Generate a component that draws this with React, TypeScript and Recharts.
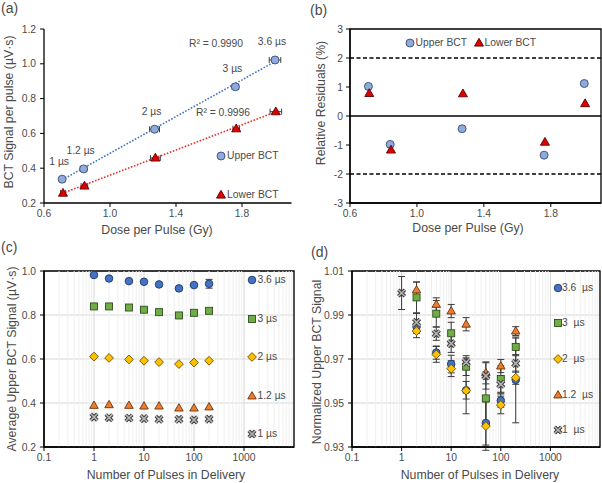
import React from 'react'
import {
  ScatterChart,
  Scatter,
  XAxis,
  YAxis,
  CartesianGrid,
  ErrorBar,
  ReferenceLine,
  ReferenceArea,
} from 'recharts'

const FONT = '"Liberation Sans", Arial, Helvetica, sans-serif'
const INK = '#4a4a4a'

// (a) + (b): signal per pulse against dose per pulse
const pulseWidths = ['1 µs', '1.2 µs', '2 µs', '3 µs', '3.6 µs']
const doseUpper = [0.71, 0.84, 1.27, 1.76, 2.0]
const doseLower = [0.715, 0.845, 1.275, 1.765, 2.005]
const upperSignal = [0.337, 0.396, 0.624, 0.868, 1.022]
const lowerSignal = [0.257, 0.298, 0.459, 0.627, 0.725]
const doseErr = [0.015, 0.02, 0.03, 0.02, 0.035]
const fitDose = [0.71, 2.0]
const upperFit = [0.333, 1.013]
const lowerFit = [0.255, 0.722]
const upperResidual = [1.02, -0.98, -0.44, -1.35, 1.12]
const lowerResidual = [0.78, -1.17, 0.77, -0.9, 0.43]

// (c): average upper BCT signal against number of pulses
const pulseCounts = [1, 2, 5, 10, 20, 50, 100, 200]
const avg36 = [0.982, 0.966, 0.954, 0.951, 0.939, 0.921, 0.936, 0.942]
const avg3 = [0.839, 0.839, 0.834, 0.824, 0.813, 0.798, 0.81, 0.819]
const avg2 = [0.611, 0.605, 0.598, 0.592, 0.586, 0.577, 0.584, 0.592]
const avg12 = [0.389, 0.392, 0.389, 0.386, 0.386, 0.377, 0.377, 0.382]
const avg1 = [0.336, 0.333, 0.332, 0.329, 0.326, 0.326, 0.323, 0.327]
const avgErr36 = [null, null, null, null, null, 0.004, 0.005, 0.02]
const avgErr3 = [null, null, null, null, null, 0.013, null, null]

// (d): normalised upper BCT signal
const normPulses = [2, 5, 10, 20, 50, 100, 200]
const norm36 = [0.9847, 0.9729, 0.9677, 0.9558, 0.9409, 0.9511, 0.9605]
const norm3 = [0.998, 0.9906, 0.9817, 0.9665, 0.9521, 0.9609, 0.9755]
const norm2 = [0.9827, 0.9721, 0.9656, 0.9556, 0.9395, 0.9491, 0.9615]
const norm12 = [1.0014, 0.9948, 0.9918, 0.9858, 0.9637, 0.9668, 0.9827]
const norm1 = [1.0, 0.9867, 0.9815, 0.977, 0.9685, 0.9623, 0.9585, 0.968]
const normErr36 = [0.003, 0.003, 0.004, 0.004, 0.01, 0.003, 0.0195]
const normErr3 = [0.007, 0.006, 0.005, 0.004, 0.012, 0.006, 0.004]
const normErr2 = [0.003, 0.0036, 0.0036, 0.0105, 0.011, 0.004, 0.003]
const normErr12 = [0.0036, 0.003, 0.003, 0.003, 0.005, 0.003, 0.002]
const normErr1 = [0.0075, 0.004, 0.003, 0.004, 0.003, 0.006, 0.004, 0.004]

const pts = (xs: number[], ys: number[], errs?: (number | null)[]) =>
  xs.map((x, i) => ({ x, y: ys[i], err: errs ? errs[i] : null }))

// marker shapes
type P = { cx?: number; cy?: number; payload?: any }
const dot = (fill: string, stroke: string, r: number) => (p: P) => (
  <circle cx={p.cx} cy={p.cy} r={r} fill={fill} stroke={stroke} strokeWidth={0.9} />
)
const tri = (fill: string, stroke: string, s: number) => (p: P) => {
  const cx = p.cx ?? 0
  const cy = p.cy ?? 0
  const h = s * 0.866
  return (
    <polygon
      points={`${cx},${cy - h * 0.6} ${cx - s / 2},${cy + h * 0.4} ${cx + s / 2},${cy + h * 0.4}`}
      fill={fill}
      stroke={stroke}
      strokeWidth={0.9}
    />
  )
}
const sq = (fill: string, stroke: string, s: number) => (p: P) => (
  <rect x={(p.cx ?? 0) - s / 2} y={(p.cy ?? 0) - s / 2} width={s} height={s} fill={fill} stroke={stroke} strokeWidth={0.9} />
)
const dia = (fill: string, stroke: string, s: number) => (p: P) => {
  const cx = p.cx ?? 0
  const cy = p.cy ?? 0
  return (
    <polygon
      points={`${cx},${cy - s} ${cx + s},${cy} ${cx},${cy + s} ${cx - s},${cy}`}
      fill={fill}
      stroke={stroke}
      strokeWidth={0.9}
    />
  )
}
const cross = (p: P) => {
  const cx = p.cx ?? 0
  const cy = p.cy ?? 0
  const d = `M${cx - 3.3},${cy - 3.3}L${cx + 3.3},${cy + 3.3}M${cx + 3.3},${cy - 3.3}L${cx - 3.3},${cy + 3.3}`
  return (
    <g>
      <path d={d} stroke="#3a3a3a" strokeWidth={3.6} />
      <path d={d} stroke="#b5b5b5" strokeWidth={1.6} />
    </g>
  )
}
const none = () => <g />

const upperDot = dot('#8FAADC', '#3b4d6e', 4)
const lowerTri = tri('#E00000', '#5a0000', 9)
const upperLabelled = (p: P) => (
  <g>
    {upperDot(p)}
    <text
      x={(p.cx ?? 0) - 3}
      y={(p.cy ?? 0) - 18}
      textAnchor="middle"
      dominantBaseline="central"
      fontSize={10.3}
      fill={INK}
      fontFamily={FONT}
    >
      {p.payload?.label}
    </text>
  </g>
)

const m36 = dot('#4472C4', '#1f3864', 3.8)
const m3 = sq('#70AD47', '#2f4f1e', 7)
const m2 = dia('#FFC000', '#6b5000', 4.4)
const m12 = tri('#ED7D31', '#6e3207', 8.5)

const axisCommon = {
  axisLine: { stroke: '#000', strokeWidth: 1.3 },
  tickLine: { stroke: '#000', strokeWidth: 1 },
  tickSize: 4,
  tick: { fontSize: 10.3, fill: INK, fontFamily: FONT },
  interval: 0 as const,
}

const minorLog = [0.1, 1, 10, 100, 1000].flatMap((d) =>
  [2, 3, 4, 5, 6, 7, 8, 9].map((m) => Number((d * m).toPrecision(2)))
)

function Txt({
  x,
  y,
  children,
  size = 10.3,
  anchor = 'middle',
  rotate = false,
}: {
  x: number
  y: number
  children: React.ReactNode
  size?: number
  anchor?: 'middle' | 'start'
  rotate?: boolean
}) {
  const tx = anchor === 'middle' ? '-50%' : '0'
  return (
    <div
      style={{
        position: 'absolute',
        left: x,
        top: y,
        transform: `translate(${tx}, -50%)${rotate ? ' rotate(-90deg)' : ''}`,
        fontSize: size,
        lineHeight: 1.15,
        color: INK,
        whiteSpace: 'pre',
      }}
    >
      {children}
    </div>
  )
}

function Key({ x, y, tx, shape, label }: { x: number; y: number; tx: number; shape: (p: P) => React.ReactNode; label: string }) {
  return (
    <>
      <svg style={{ position: 'absolute', left: x - 7, top: y - 7 }} width={14} height={14}>
        {shape({ cx: 7, cy: 7 })}
      </svg>
      <Txt x={tx} y={y} anchor="start">
        {label}
      </Txt>
    </>
  )
}

function PanelA() {
  const up = doseUpper.map((x, i) => ({ x, y: upperSignal[i], err: doseErr[i], label: pulseWidths[i] }))
  const low = doseLower.map((x, i) => ({ x, y: lowerSignal[i], err: doseErr[i] }))
  return (
    <ScatterChart width={300} height={240} margin={{ top: 29, right: 8.5, bottom: 0, left: 0 }}>
      <XAxis
        type="number"
        dataKey="x"
        domain={[0.6, 2.1]}
        ticks={[0.6, 1.0, 1.4, 1.8]}
        tickFormatter={(v: number) => v.toFixed(1)}
        allowDataOverflow
        height={37}
        tickMargin={3}
        {...axisCommon}
      />
      <YAxis
        type="number"
        dataKey="y"
        domain={[0.2, 1.2]}
        ticks={[0.2, 0.4, 0.6, 0.8, 1.0, 1.2]}
        tickFormatter={(v: number) => v.toFixed(1)}
        allowDataOverflow
        width={44}
        tickMargin={4}
        {...axisCommon}
      />
      <Scatter
        data={pts(fitDose, upperFit)}
        line={{ stroke: '#4472C4', strokeWidth: 1.6, strokeDasharray: '1.6 1.6' }}
        shape={none}
        isAnimationActive={false}
      />
      <Scatter
        data={pts(fitDose, lowerFit)}
        line={{ stroke: '#E83030', strokeWidth: 1.6, strokeDasharray: '1.6 1.6' }}
        shape={none}
        isAnimationActive={false}
      />
      <Scatter data={up} shape={upperLabelled} isAnimationActive={false}>
        <ErrorBar dataKey="err" direction="x" width={3} stroke="#404040" strokeWidth={1} />
      </Scatter>
      <Scatter data={low} shape={lowerTri} isAnimationActive={false}>
        <ErrorBar dataKey="err" direction="x" width={3} stroke="#404040" strokeWidth={1} />
      </Scatter>
    </ScatterChart>
  )
}

function PanelB() {
  return (
    <ScatterChart width={302} height={240} margin={{ top: 29, right: 1, bottom: 0, left: 0 }}>
      <XAxis
        type="number"
        dataKey="x"
        domain={[0.6, 2.1]}
        ticks={[0.6, 1.0, 1.4, 1.8]}
        tickFormatter={(v: number) => v.toFixed(1)}
        allowDataOverflow
        height={37}
        tickMargin={3}
        {...axisCommon}
      />
      <YAxis
        type="number"
        dataKey="y"
        domain={[-3, 3]}
        ticks={[-3, -2, -1, 0, 1, 2, 3]}
        allowDataOverflow
        width={50}
        tickMargin={3}
        {...axisCommon}
      />
      <ReferenceArea x1={0.6} x2={2.1} y1={-3} y2={3} fill="none" stroke="#000" strokeWidth={1.3} />
      <ReferenceLine y={0} stroke="#000" strokeWidth={1.3} />
      <ReferenceLine y={2} stroke="#000" strokeWidth={1.3} strokeDasharray="4 2.5" />
      <ReferenceLine y={-2} stroke="#000" strokeWidth={1.3} strokeDasharray="4 2.5" />
      <Scatter data={pts(doseUpper, upperResidual)} shape={upperDot} isAnimationActive={false} />
      <Scatter data={pts(doseLower, lowerResidual)} shape={lowerTri} isAnimationActive={false} />
    </ScatterChart>
  )
}

function LogPanel({
  width,
  yAxisWidth,
  right,
  yDomain,
  yTicks,
  digits,
  children,
}: {
  width: number
  yAxisWidth: number
  right: number
  yDomain: [number, number]
  yTicks: number[]
  digits: number
  children: React.ReactNode
}) {
  return (
    <ScatterChart width={width} height={243} margin={{ top: 31, right, bottom: 0, left: 0 }}>
      <CartesianGrid stroke="#d6d6d6" strokeWidth={1} />
      {minorLog.map((v) => (
        <ReferenceLine key={v} x={v} stroke="#efefef" strokeWidth={1} />
      ))}
      <XAxis
        type="number"
        dataKey="x"
        scale="log"
        domain={[0.1, 10000]}
        ticks={[0.1, 1, 10, 100, 1000]}
        tickFormatter={(v: number) => String(v)}
        allowDataOverflow
        height={243 - 31 - 176}
        tickMargin={3}
        {...axisCommon}
      />
      <YAxis
        type="number"
        dataKey="y"
        domain={yDomain}
        ticks={yTicks}
        tickFormatter={(v: number) => v.toFixed(digits)}
        allowDataOverflow
        width={yAxisWidth}
        tickMargin={4}
        {...axisCommon}
      />
      <ReferenceArea x1={0.1} x2={10000} y1={yDomain[0]} y2={yDomain[1]} fill="none" stroke="#000" strokeWidth={1.3} />
      {children}
    </ScatterChart>
  )
}

const errProps = { direction: 'y' as const, width: 3.5, stroke: '#3a3a3a', strokeWidth: 1 }

export default function App() {
  return (
    <div
      style={{
        position: 'absolute',
        left: 0,
        top: 0,
        width: 602,
        height: 483,
        background: '#fff',
        fontFamily: FONT,
        overflow: 'hidden',
      }}
    >
      <div style={{ position: 'absolute', left: 0, top: 0 }}>
        <PanelA />
      </div>
      <div style={{ position: 'absolute', left: 300, top: 0 }}>
        <PanelB />
      </div>
      <div style={{ position: 'absolute', left: 0, top: 240 }}>
        <LogPanel width={300} yAxisWidth={44} right={6} yDomain={[0.2, 1.0]} yTicks={[0.2, 0.4, 0.6, 0.8, 1.0]} digits={1}>
          <Scatter data={pts(pulseCounts, avg36, avgErr36)} shape={m36} isAnimationActive={false}>
            <ErrorBar dataKey="err" {...errProps} />
          </Scatter>
          <Scatter data={pts(pulseCounts, avg3, avgErr3)} shape={m3} isAnimationActive={false}>
            <ErrorBar dataKey="err" {...errProps} />
          </Scatter>
          <Scatter data={pts(pulseCounts, avg2)} shape={m2} isAnimationActive={false} />
          <Scatter data={pts(pulseCounts, avg12)} shape={m12} isAnimationActive={false} />
          <Scatter data={pts(pulseCounts, avg1)} shape={cross} isAnimationActive={false} />
        </LogPanel>
      </div>
      <div style={{ position: 'absolute', left: 300, top: 240 }}>
        <LogPanel
          width={302}
          yAxisWidth={52}
          right={2}
          yDomain={[0.93, 1.01]}
          yTicks={[0.93, 0.95, 0.97, 0.99, 1.01]}
          digits={2}
        >
          <Scatter data={pts(normPulses, norm36, normErr36)} shape={m36} isAnimationActive={false}>
            <ErrorBar dataKey="err" {...errProps} />
          </Scatter>
          <Scatter data={pts(normPulses, norm3, normErr3)} shape={m3} isAnimationActive={false}>
            <ErrorBar dataKey="err" {...errProps} />
          </Scatter>
          <Scatter data={pts(normPulses, norm2, normErr2)} shape={m2} isAnimationActive={false}>
            <ErrorBar dataKey="err" {...errProps} />
          </Scatter>
          <Scatter data={pts(normPulses, norm12, normErr12)} shape={m12} isAnimationActive={false}>
            <ErrorBar dataKey="err" {...errProps} />
          </Scatter>
          <Scatter data={pts(pulseCounts, norm1, normErr1)} shape={cross} isAnimationActive={false}>
            <ErrorBar dataKey="err" {...errProps} />
          </Scatter>
        </LogPanel>
      </div>

      {/* panel letters */}
      <Txt x={1} y={8} size={14} anchor="start">(a)</Txt>
      <Txt x={310} y={10} size={14} anchor="start">(b)</Txt>
      <Txt x={1} y={247} size={14} anchor="start">(c)</Txt>
      <Txt x={311} y={252} size={14} anchor="start">(d)</Txt>

      {/* axis titles */}
      <Txt x={157} y={230} size={12.3}>Dose per Pulse (Gy)</Txt>
      <Txt x={9} y={112} size={12.3} rotate>BCT Signal per pulse (µV·s)</Txt>
      <Txt x={468} y={228} size={12.3}>Dose per Pulse (Gy)</Txt>
      <Txt x={321} y={103} size={12.3} rotate>Relative Residuals (%)</Txt>
      <Txt x={166} y={475} size={12.3}>Number of Pulses in Delivery</Txt>
      <Txt x={12} y={359} size={12.3} rotate>Average Upper BCT Signal (µV·s)</Txt>
      <Txt x={480} y={475} size={12.3}>Number of Pulses in Delivery</Txt>
      <Txt x={317} y={362} size={12.3} rotate>Normalized Upper BCT Signal</Txt>

      {/* fit annotations (a) */}
      <Txt x={216} y={44}>R² = 0.9990</Txt>
      <Txt x={223} y={113}>R² = 0.9996</Txt>

      {/* legends */}
      <Key x={221} y={156} tx={227} shape={upperDot} label="Upper BCT" />
      <Key x={221} y={195} tx={227} shape={lowerTri} label="Lower BCT" />
      <Key x={410} y={43} tx={415.5} shape={upperDot} label="Upper BCT" />
      <Key x={479} y={43} tx={484.5} shape={lowerTri} label="Lower BCT" />

      <Key x={252} y={280} tx={257.5} shape={m36} label="3.6 µs" />
      <Key x={252} y={319} tx={257.5} shape={m3} label="3 µs" />
      <Key x={252} y={357} tx={257.5} shape={m2} label="2 µs" />
      <Key x={252} y={396} tx={257.5} shape={m12} label="1.2 µs" />
      <Key x={252} y={434} tx={257.5} shape={cross} label="1 µs" />

      <Key x={558} y={288} tx={562} shape={m36} label="3.6  µs" />
      <Key x={558} y={323} tx={562} shape={m3} label="3  µs" />
      <Key x={558} y={359} tx={562} shape={m2} label="2  µs" />
      <Key x={558} y={395} tx={562} shape={m12} label="1.2  µs" />
      <Key x={558} y={430} tx={562} shape={cross} label="1  µs" />
    </div>
  )
}
